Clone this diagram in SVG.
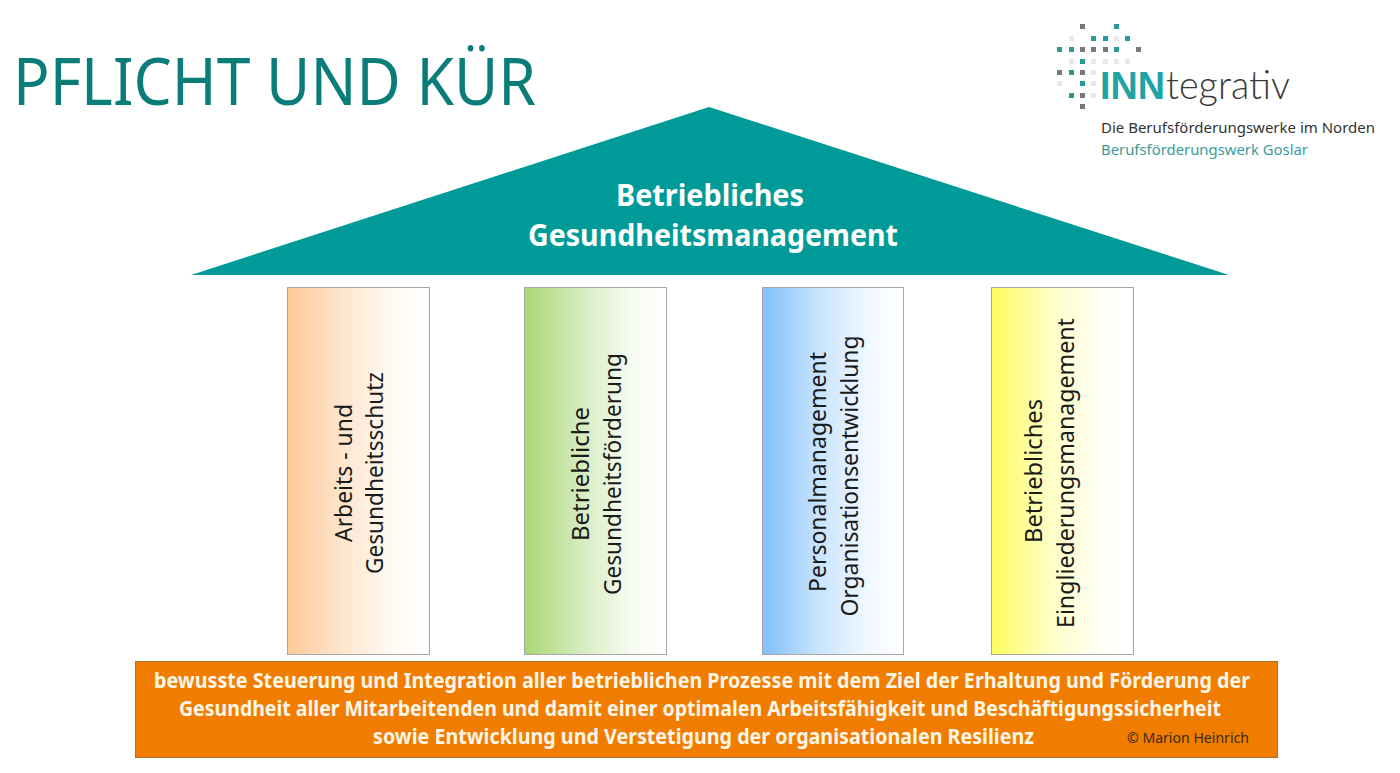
<svg xmlns="http://www.w3.org/2000/svg" width="1400" height="773" viewBox="0 0 1400 773">
<style>
.s{font-family:"Noto Sans","Open Sans","Liberation Sans",sans-serif}
.roof{font-size:31px;font-weight:700;fill:#fff;text-anchor:middle}
.pil{font-size:24px;fill:#1a1a1a;text-anchor:middle}
.ban{font-size:21px;font-weight:700;fill:#fff6e8}
.box{stroke:#a6a6a6;stroke-width:1}
.t{fill:#2a9a98}.g{fill:#77787a}.l{fill:#e6e8e9}
.d rect{width:5px;height:5px}
</style>
<defs>
<linearGradient id="go"><stop offset="0" stop-color="#fdc998"/><stop offset=".4" stop-color="#fee6cf"/><stop offset=".75" stop-color="#fffaf5"/><stop offset="1" stop-color="#fff"/></linearGradient>
<linearGradient id="gg"><stop offset="0" stop-color="#a8d774"/><stop offset=".4" stop-color="#d6ecc0"/><stop offset=".75" stop-color="#f7fbf2"/><stop offset="1" stop-color="#fff"/></linearGradient>
<linearGradient id="gb"><stop offset="0" stop-color="#80c0fc"/><stop offset=".4" stop-color="#c9e4fd"/><stop offset=".75" stop-color="#f2f8ff"/><stop offset="1" stop-color="#fff"/></linearGradient>
<linearGradient id="gy"><stop offset="0" stop-color="#fdfd5e"/><stop offset=".4" stop-color="#fefec4"/><stop offset=".75" stop-color="#fffff4"/><stop offset="1" stop-color="#fff"/></linearGradient>
</defs>
<rect width="1400" height="773" fill="#fff"/>
<text id="title" class="s" x="13" y="105" font-size="65" fill="#0a7d78" textLength="523" lengthAdjust="spacingAndGlyphs">PFLICHT UND KÜR</text>
<g id="logo">
<g class="d">
<rect class="g" x="1080" y="24"/><rect class="t" x="1114" y="24"/>
<rect class="l" x="1069" y="36"/><rect class="t" x="1091" y="36"/><rect class="t" x="1103" y="36"/><rect class="l" x="1114" y="36"/><rect class="t" x="1125" y="36"/>
<rect class="t" x="1057" y="47"/><rect class="t" x="1069" y="47"/><rect class="g" x="1080" y="47"/><rect class="g" x="1091" y="47"/><rect class="g" x="1103" y="47"/><rect class="t" x="1114" y="47"/><rect class="g" x="1136" y="47"/>
<rect class="l" x="1069" y="59"/><rect class="t" x="1080" y="59"/><rect class="l" x="1091" y="59"/><rect class="l" x="1103" y="59"/><rect class="l" x="1114" y="59"/><rect class="l" x="1125" y="59"/>
<rect class="g" x="1057" y="70"/><rect class="t" x="1069" y="70"/><rect class="g" x="1080" y="70"/><rect class="l" x="1091" y="70"/>
<rect class="l" x="1057" y="81"/><rect class="t" x="1080" y="81"/><rect class="l" x="1091" y="81"/>
<rect class="t" x="1069" y="93"/><rect class="g" x="1080" y="93"/><rect class="l" x="1091" y="93"/>
<rect class="g" x="1080" y="104"/>
</g>
<text x="1100" y="99" font-family="'Liberation Sans',sans-serif" font-size="38" font-weight="700" fill="#1fa3a3" textLength="65" lengthAdjust="spacingAndGlyphs">INN</text>
<text x="1166" y="99" font-family="Lato,'Open Sans',sans-serif" font-size="40" font-weight="300" fill="#3a3a3a" textLength="124" lengthAdjust="spacingAndGlyphs">tegrativ</text>
<text class="s" x="1101" y="133" font-size="15" fill="#333" textLength="274" lengthAdjust="spacingAndGlyphs">Die Berufsförderungswerke im Norden</text>
<text class="s" x="1101" y="155" font-size="15" fill="#3a9c9a" textLength="207" lengthAdjust="spacingAndGlyphs">Berufsförderungswerk Goslar</text>
</g>
<g id="roof">
<polygon points="709,107 1229,275 191,275" fill="#009b98"/>
<text class="s roof" x="710" y="206" textLength="188" lengthAdjust="spacingAndGlyphs">Betriebliches</text>
<text class="s roof" x="713" y="246" textLength="370" lengthAdjust="spacingAndGlyphs">Gesundheitsmanagement</text>
</g>
<g id="pillar1">
<rect class="box" x="287.500" y="287.500" width="142" height="367" fill="url(#go)"/>
<text class="s pil" transform="translate(352 473) rotate(-90)" textLength="138" lengthAdjust="spacingAndGlyphs">Arbeits - und</text>
<text class="s pil" transform="translate(383 473) rotate(-90)" textLength="202" lengthAdjust="spacingAndGlyphs">Gesundheitsschutz</text>
</g>
<g id="pillar2">
<rect class="box" x="524.500" y="287.500" width="142" height="367" fill="url(#gg)"/>
<text class="s pil" transform="translate(589 474) rotate(-90)" textLength="134" lengthAdjust="spacingAndGlyphs">Betriebliche</text>
<text class="s pil" transform="translate(621 474) rotate(-90)" textLength="242" lengthAdjust="spacingAndGlyphs">Gesundheitsförderung</text>
</g>
<g id="pillar3">
<rect class="box" x="762.500" y="287.500" width="141" height="367" fill="url(#gb)"/>
<text class="s pil" transform="translate(826 472) rotate(-90)" textLength="240" lengthAdjust="spacingAndGlyphs">Personalmanagement</text>
<text class="s pil" transform="translate(858 476) rotate(-90)" textLength="281" lengthAdjust="spacingAndGlyphs">Organisationsentwicklung</text>
</g>
<g id="pillar4">
<rect class="box" x="991.500" y="287.500" width="142" height="367" fill="url(#gy)"/>
<text class="s pil" transform="translate(1042 471) rotate(-90)" textLength="144" lengthAdjust="spacingAndGlyphs">Betriebliches</text>
<text class="s pil" transform="translate(1074 473) rotate(-90)" textLength="310" lengthAdjust="spacingAndGlyphs">Eingliederungsmanagement</text>
</g>
<g id="banner">
<rect x="135.500" y="661.500" width="1142" height="96" fill="#f07d00" stroke="#a8722e" stroke-width="1"/>
<text class="s ban" x="154" y="688" textLength="1096" lengthAdjust="spacingAndGlyphs">bewusste Steuerung und Integration aller betrieblichen Prozesse mit dem Ziel der Erhaltung und Förderung der</text>
<text class="s ban" x="179" y="716" textLength="1042" lengthAdjust="spacingAndGlyphs">Gesundheit aller Mitarbeitenden und damit einer optimalen Arbeitsfähigkeit und Beschäftigungssicherheit</text>
<text class="s ban" x="373" y="744" textLength="661" lengthAdjust="spacingAndGlyphs">sowie Entwicklung und Verstetigung der organisationalen Resilienz</text>
<text class="s" x="1127" y="743" font-size="14" fill="#3a2a10" textLength="122" lengthAdjust="spacingAndGlyphs">© Marion Heinrich</text>
</g>
</svg>
